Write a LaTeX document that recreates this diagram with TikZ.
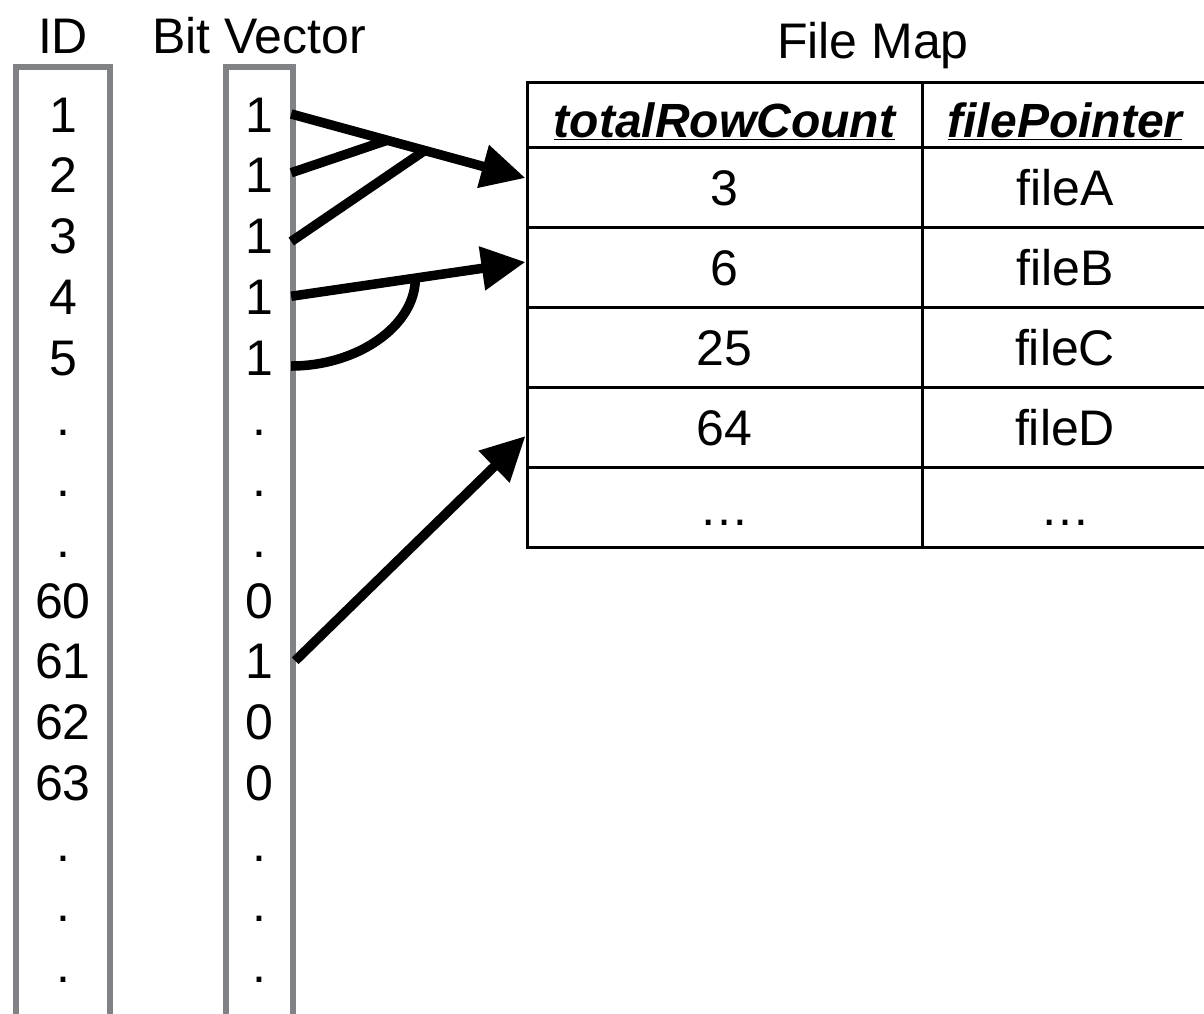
\documentclass[tikz,border=0pt]{standalone}
\usepackage{fontspec}
\setmainfont{Liberation Sans}
\usetikzlibrary{arrows.meta}
\definecolor{boxgray}{RGB}{128,130,134}

\begin{document}
\begin{tikzpicture}[x=1pt,y=-1pt,
  txt/.style={font=\fontsize{50}{52}\selectfont, inner sep=0pt, text height=36pt, text depth=0pt},
  head/.style={font=\fontsize{50}{52}\selectfont, inner sep=0pt, text height=36pt, text depth=0pt},
  bitcell/.style={txt, minimum width=64pt},
  column/.style={boxgray, line width=6pt},
  cellbox/.style={txt, draw, line width=3pt, minimum width=395pt, minimum height=80pt},
  ptrbox/.style={cellbox, minimum width=286pt},
  headbox/.style={minimum height=65pt, text height=45pt, font=\fontsize{48}{50}\selectfont\bfseries\itshape},
  link/.style={line width=9.5pt},
  ptr/.style={link, -{Triangle[length=44pt,width=42pt]}}]
\clip (0,0) rectangle (1204,1013);
% headings
\node[head] (idhead) at (63,35) {ID};
\node[head] (bithead) at (259,35) {Bit Vector};
\node[head] (maphead) at (873,40) {File Map};
% the two columns, open at the bottom
\draw[column] (16,1030) |- (110,67) -- (110,1030);
\draw[column] (226,1030) |- (293,67) -- (293,1030);
\foreach \v [count=\i from 0] in {1,2,3,4,5,.,.,.,60,61,62,63,.,.,.}
  \node[txt] (id\i) at (63,{114+60.75*\i}) {\v};
\foreach \b [count=\i] in {1,1,1,1,1,.,.,.,0,1,0,0,.,.,.}
  \node[bitcell] (bit\i) at (259,{53.25+60.75*\i}) {\b};
% file map
\node[cellbox, headbox] (hcnt) at (724.5,114.5) {\underline{totalRowCount}};
\node[ptrbox, headbox] (hptr) at (1065,114.5) {\underline{filePointer}};
\foreach \c/\p [count=\i] in {3/fileA,6/fileB,25/fileC,64/fileD,\ldots/\ldots} {
  \node[cellbox] (cnt\i) at (724.5,{107+80*\i}) {\c};
  \node[ptrbox] (ptr\i) at (1065,{107+80*\i}) {\p};
}
% pointers
\draw[ptr] (bit1.east) -- coordinate[pos=0.41] (j1) coordinate[pos=0.57] (j2) ([yshift=9pt]cnt1.west);
\draw[link] ([yshift=2pt]bit2.east) -- (j1);
\draw[link] ([yshift=-6pt]bit3.east) -- (j2);
\draw[ptr] (bit4.east) -- coordinate[pos=0.53] (j3) ([yshift=5pt]cnt2.west);
\draw[link] ([yshift=-9pt]bit5.east) .. controls +(66,0) and +(0,48) .. (j3);
\draw[ptr] ([xshift=4pt]bit10.east) -- ([yshift=-9pt]cnt4.west);
\end{tikzpicture}
\end{document}
